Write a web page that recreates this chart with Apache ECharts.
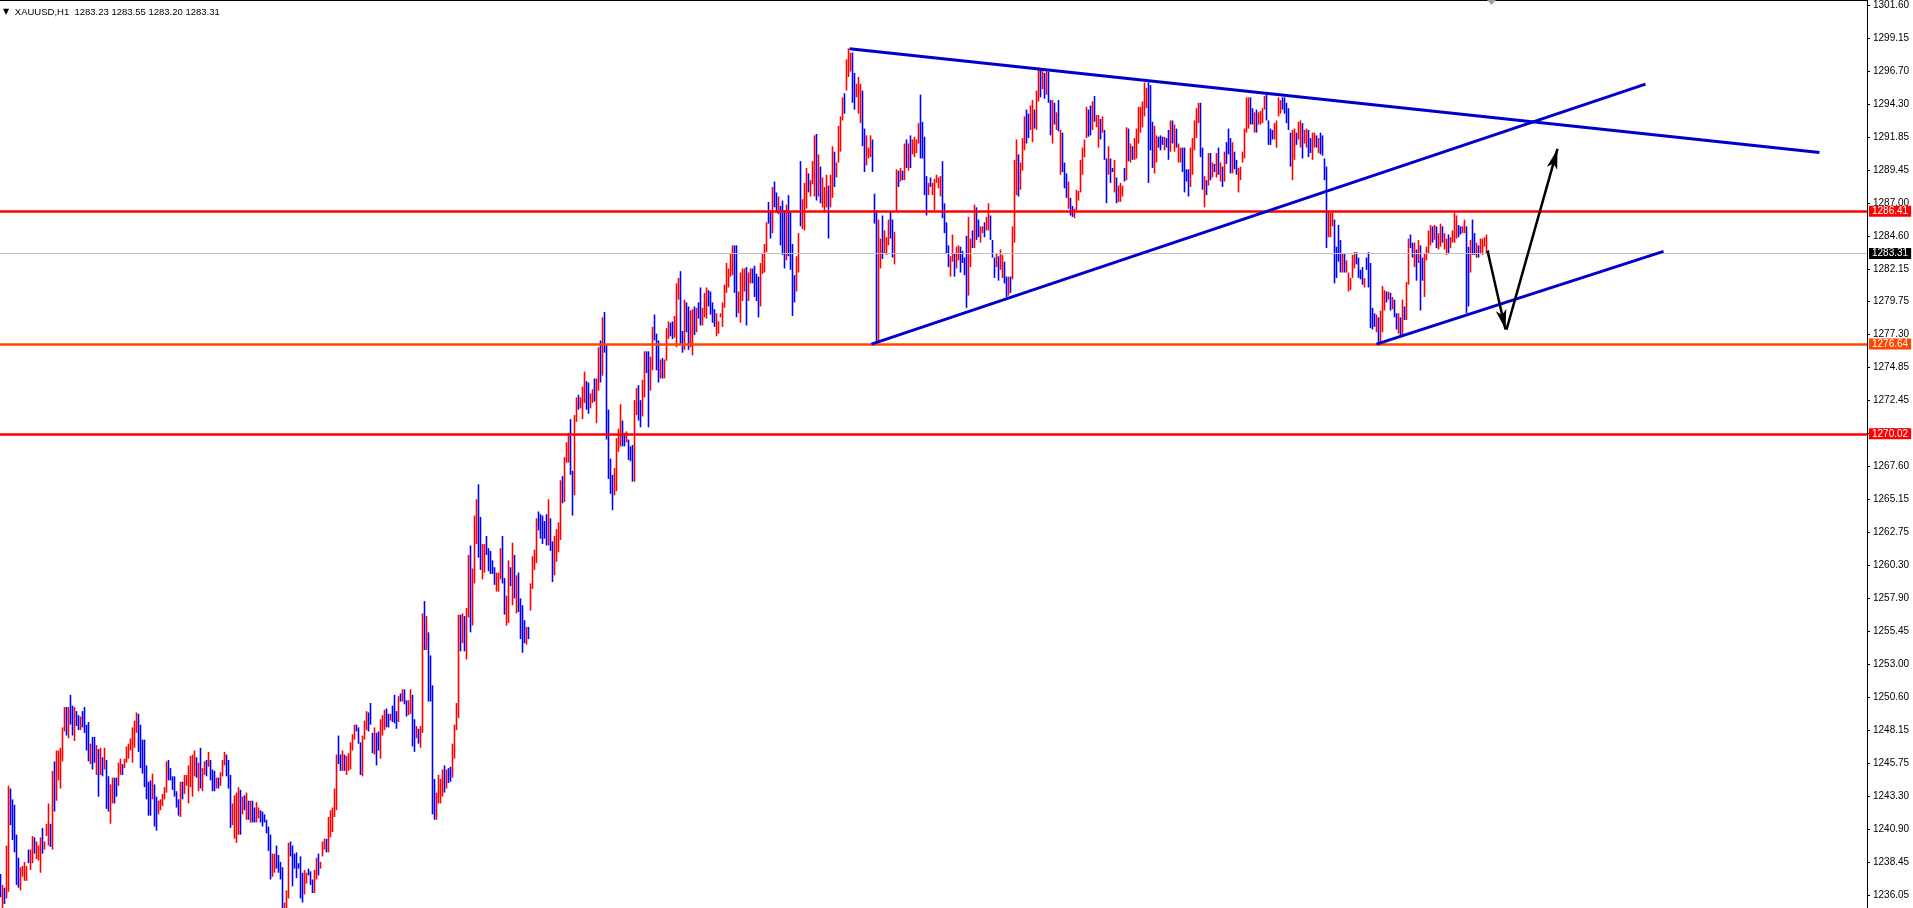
<!DOCTYPE html>
<html><head><meta charset="utf-8">
<script src="https://cdn.jsdelivr.net/npm/echarts@6/dist/echarts.min.js"></script>
<style>html,body{margin:0;padding:0;background:#fff;}#c{width:1913px;height:908px;}</style>
</head><body><div id="c"></div>
<script>
// ---------- DATA ----------
const symbolName = 'XAUUSD,H1';
const lastOHLC = [1283.23, 1283.55, 1283.20, 1283.31];
const tickLabels = ['1236.05','1238.45','1240.90','1243.30','1245.75','1248.15','1250.60','1253.00','1255.45','1257.90','1260.30','1262.75','1265.15','1267.60','1270.00','1272.45','1274.85','1277.30','1279.75','1282.15','1284.60','1287.00','1289.45','1291.85','1294.30','1296.70','1299.15','1301.60'];
const priceMin = 1235.10, priceMax = 1301.97;

const highs = [
1237.6,1236.8,1236.6,1239.7,1244.1,1243.9,1243.1,1242.7,1240.5,1238.8,
1238.1,1238.2,1238.5,1238.2,1239.4,1239.4,1240.4,1240.3,1240.0,1239.7,
1240.3,1241.0,1240.0,1241.3,1242.8,1241.3,1245.2,1245.9,1246.7,1246.7,
1246.9,1248.4,1249.9,1249.9,1249.9,1250.8,1250.0,1249.9,1249.6,1249.3,
1249.2,1249.6,1249.9,1248.6,1248.8,1247.2,1247.7,1247.7,1247.1,1246.8,
1246.9,1246.2,1246.9,1246.0,1244.8,1244.2,1244.7,1244.7,1244.7,1245.8,
1246.1,1245.7,1246.1,1247.0,1247.2,1247.6,1248.4,1248.9,1249.5,1249.4,
1248.6,1247.5,1247.5,1245.6,1244.4,1244.5,1245.0,1244.2,1243.3,1243.0,
1243.1,1243.5,1244.0,1245.9,1246.0,1245.4,1244.8,1244.8,1243.7,1243.1,
1244.4,1244.4,1244.9,1244.9,1245.6,1246.3,1246.4,1246.7,1246.2,1245.8,
1246.9,1245.4,1245.9,1246.0,1246.6,1246.0,1245.3,1245.2,1244.7,1244.7,
1245.1,1246.0,1246.6,1246.4,1246.0,1244.9,1242.8,1243.4,1243.6,1244.0,
1243.8,1243.3,1243.4,1243.6,1243.0,1243.0,1243.0,1242.5,1242.9,1242.5,
1242.3,1242.2,1242.0,1241.6,1241.1,1240.5,1239.1,1239.1,1239.7,1239.0,
1238.5,1238.1,1235.5,1236.4,1239.9,1240.0,1239.7,1239.1,1239.2,1238.4,
1238.9,1237.7,1237.9,1237.7,1238.0,1237.8,1237.2,1237.9,1238.8,1239.1,
1238.5,1240.0,1240.2,1240.2,1241.8,1242.3,1242.5,1243.9,1246.4,1247.8,
1246.4,1246.7,1246.4,1246.3,1246.5,1247.3,1247.9,1248.6,1248.6,1248.4,
1247.3,1247.8,1248.9,1249.6,1249.5,1250.2,1248.0,1248.4,1248.0,1248.1,
1249.0,1249.3,1249.7,1249.8,1249.4,1249.4,1250.0,1250.8,1249.6,1250.7,
1250.9,1251.2,1251.2,1250.4,1250.4,1251.2,1250.8,1249.0,1248.5,1248.3,
1248.5,1256.8,1257.7,1256.6,1255.4,1253.7,1251.5,1244.6,1243.6,1244.9,
1244.6,1245.3,1245.6,1245.3,1245.4,1245.5,1247.2,1248.6,1250.2,1256.7,
1256.7,1256.8,1256.6,1257.2,1261.1,1261.8,1260.1,1264.0,1265.2,1266.3,
1263.9,1261.9,1261.9,1262.5,1261.6,1261.4,1260.7,1260.2,1259.8,1259.8,
1261.6,1262.5,1259.4,1258.1,1260.7,1260.2,1262.0,1261.1,1259.6,1259.8,
1257.9,1257.4,1256.3,1255.8,1255.8,1259.0,1261.0,1261.5,1263.8,1264.3,
1264.1,1264.0,1263.6,1264.1,1265.2,1263.8,1262.1,1262.5,1263.0,1263.5,
1266.6,1266.9,1268.3,1269.4,1270.1,1271.1,1267.3,1271.4,1272.7,1272.9,
1272.7,1273.5,1274.6,1273.9,1273.8,1273.0,1273.3,1274.1,1274.1,1276.4,
1276.9,1278.6,1279.0,1276.6,1271.8,1268.2,1267.0,1267.5,1269.7,1270.4,
1272.2,1271.0,1270.1,1270.2,1269.6,1269.1,1269.2,1272.5,1273.4,1273.6,
1272.5,1274.0,1276.1,1276.1,1276.1,1275.7,1277.9,1278.8,1277.4,1276.9,
1275.5,1275.6,1275.5,1277.8,1278.3,1278.2,1278.3,1278.7,1281.1,1281.5,
1282.0,1277.6,1279.9,1279.7,1279.4,1279.1,1279.2,1279.4,1279.3,1279.7,
1280.8,1279.3,1280.4,1280.8,1280.6,1280.5,1279.7,1279.2,1278.9,1278.3,
1278.9,1279.7,1281.0,1282.6,1282.2,1283.3,1283.9,1283.9,1283.9,1280.5,
1281.9,1282.2,1282.2,1282.3,1281.9,1282.2,1282.2,1282.4,1281.8,1281.6,
1282.6,1283.3,1284.0,1285.6,1287.1,1286.5,1288.2,1288.6,1287.8,1287.5,
1286.8,1287.2,1286.5,1286.9,1287.6,1286.4,1284.0,1281.7,1283.1,1284.8,
1290.1,1287.3,1288.5,1289.6,1289.2,1288.7,1290.1,1292.0,1292.1,1290.6,
1289.7,1288.9,1288.2,1289.1,1288.3,1289.1,1291.2,1290.8,1290.0,1292.7,
1293.4,1294.8,1295.1,1297.6,1298.4,1298.1,1298.1,1296.6,1295.8,1296.3,
1295.8,1295.3,1292.5,1292.0,1291.1,1292.0,1291.7,1287.7,1286.5,1285.8,
1284.4,1286.1,1285.0,1284.5,1285.8,1286.4,1285.8,1284.9,1289.5,1289.4,
1289.6,1289.4,1291.4,1291.7,1291.4,1292.0,1291.7,1291.9,1291.7,1292.9,
1295.0,1293.0,1291.9,1289.0,1288.5,1288.9,1288.5,1288.8,1289.1,1288.9,
1289.0,1290.1,1287.0,1285.6,1283.9,1283.1,1284.7,1283.3,1283.8,1283.9,
1283.8,1283.5,1283.0,1284.6,1286.0,1284.4,1285.0,1286.9,1286.7,1285.8,
1285.3,1285.3,1285.6,1286.0,1287.0,1286.1,1284.3,1283.0,1283.3,1283.1,
1283.6,1283.2,1282.7,1281.6,1281.6,1281.6,1285.3,1290.2,1291.7,1290.6,
1290.0,1291.8,1293.4,1293.9,1293.6,1294.2,1294.6,1293.9,1295.3,1297.0,
1296.9,1296.8,1296.6,1296.8,1296.7,1294.6,1294.6,1294.4,1293.7,1294.6,
1292.4,1292.2,1290.0,1289.2,1288.6,1287.4,1286.8,1286.6,1288.0,1287.9,
1290.2,1291.1,1291.7,1294.1,1293.9,1294.2,1294.5,1294.9,1293.5,1293.5,
1293.2,1293.4,1292.4,1290.3,1291.2,1290.3,1289.6,1290.2,1288.9,1288.3,
1288.5,1288.3,1289.6,1292.6,1292.5,1291.4,1291.2,1291.8,1292.5,1294.1,
1294.1,1294.5,1295.9,1295.5,1295.9,1295.7,1293.0,1292.7,1292.0,1291.9,
1292.0,1291.9,1291.9,1291.8,1292.4,1293.1,1293.1,1292.8,1292.5,1291.4,
1291.1,1291.1,1291.1,1289.5,1289.5,1291.1,1291.8,1293.1,1294.0,1294.4,
1294.4,1291.1,1289.0,1288.7,1290.7,1290.7,1290.0,1289.9,1290.7,1291.1,
1290.0,1289.7,1290.8,1291.5,1292.5,1291.8,1291.5,1290.8,1290.2,1289.6,
1289.7,1290.8,1292.5,1294.8,1294.8,1294.8,1294.0,1293.7,1293.9,1293.7,
1293.8,1294.0,1294.9,1295.0,1293.1,1292.5,1292.4,1292.9,1293.1,1294.8,
1294.6,1294.8,1294.8,1294.4,1294.0,1292.2,1292.4,1292.5,1292.2,1293.0,
1293.1,1292.9,1292.4,1292.5,1292.4,1291.8,1292.2,1292.2,1292.0,1291.8,
1292.2,1292.0,1290.3,1289.7,1286.4,1286.3,1286.4,1285.8,1283.8,1285.4,
1284.3,1283.3,1283.3,1282.8,1281.9,1281.5,1283.2,1283.4,1283.4,1283.0,
1282.1,1282.3,1281.5,1283.0,1283.4,1282.6,1279.3,1278.9,1278.8,1278.6,
1279.1,1280.9,1280.6,1280.5,1280.5,1280.4,1280.1,1279.9,1278.9,1278.9,
1278.6,1279.9,1279.4,1281.2,1284.4,1284.7,1284.1,1284.1,1283.6,1284.3,
1283.9,1283.0,1283.3,1283.8,1285.0,1285.4,1285.3,1285.4,1285.3,1284.8,
1285.5,1285.3,1284.8,1284.4,1284.7,1284.5,1285.0,1286.3,1286.1,1285.4,
1285.3,1285.3,1285.8,1285.3,1283.8,1284.3,1285.8,1284.8,1284.1,1283.9,
1284.4,1284.4,1284.5,1284.7,1283.55
];
const lows = [
1235.9,1235.1,1235.4,1235.8,1236.3,1241.2,1240.1,1239.2,1236.8,1236.6,
1236.4,1237.4,1237.1,1237.1,1238.4,1237.9,1238.4,1239.1,1238.7,1238.6,
1237.7,1239.1,1239.4,1240.4,1239.7,1239.6,1239.4,1242.2,1243.0,1244.5,
1243.9,1245.9,1248.1,1247.8,1247.6,1248.6,1247.8,1247.4,1248.5,1248.2,
1248.2,1248.4,1248.0,1246.7,1245.9,1245.7,1245.3,1245.8,1244.9,1243.3,
1244.9,1244.8,1245.3,1242.4,1242.2,1241.3,1242.8,1242.8,1243.3,1244.1,
1244.9,1244.9,1245.4,1245.8,1246.1,1246.7,1245.8,1246.9,1248.0,1246.6,
1245.4,1245.0,1244.0,1243.1,1241.9,1241.9,1243.1,1241.1,1240.8,1242.0,
1242.3,1242.6,1243.1,1243.6,1244.5,1244.5,1243.8,1243.3,1242.5,1241.9,
1241.8,1243.1,1243.5,1244.1,1242.8,1244.0,1243.3,1244.8,1244.7,1243.7,
1243.9,1243.7,1244.9,1244.8,1245.5,1244.5,1243.7,1243.7,1243.9,1243.9,
1244.1,1244.8,1245.6,1244.8,1243.9,1241.0,1241.2,1240.2,1239.9,1240.5,
1240.5,1242.0,1242.3,1241.6,1241.6,1241.4,1241.4,1241.4,1241.4,1241.7,
1241.4,1241.1,1241.4,1240.6,1239.3,1237.2,1237.4,1237.7,1238.0,1237.7,
1237.2,1235.0,1234.8,1234.9,1235.8,1238.9,1236.7,1238.0,1237.3,1238.0,
1235.8,1235.5,1236.1,1236.9,1237.5,1236.8,1236.2,1236.2,1237.2,1237.5,
1238.0,1238.9,1239.4,1239.2,1239.2,1240.3,1240.7,1241.8,1242.3,1245.7,
1245.2,1245.2,1245.2,1244.9,1245.2,1245.3,1246.7,1247.5,1248.1,1247.2,
1244.9,1244.8,1247.5,1248.2,1248.1,1248.6,1246.5,1246.4,1245.6,1246.7,
1246.1,1247.8,1248.2,1248.4,1248.4,1248.9,1248.8,1248.7,1248.3,1248.8,
1250.3,1250.3,1250.1,1249.2,1249.3,1249.4,1247.0,1246.6,1247.6,1247.2,
1246.9,1248.0,1254.1,1254.1,1250.3,1250.3,1242.0,1241.6,1241.6,1242.8,
1242.8,1243.3,1243.6,1243.9,1244.3,1244.4,1244.7,1246.1,1248.2,1249.1,
1254.0,1254.6,1254.0,1253.4,1256.5,1255.4,1255.9,1259.0,1261.9,1260.9,
1260.0,1259.3,1259.8,1261.1,1259.9,1259.7,1259.7,1258.9,1258.4,1258.4,
1259.3,1259.0,1256.7,1255.9,1256.1,1258.8,1257.4,1257.9,1256.8,1256.9,
1254.9,1253.9,1254.6,1254.5,1254.9,1257.0,1258.6,1260.0,1260.5,1262.9,
1262.3,1261.9,1262.3,1261.8,1261.8,1261.4,1259.1,1259.6,1260.6,1261.3,
1262.2,1264.9,1265.0,1267.9,1267.9,1267.0,1264.0,1265.5,1270.9,1271.8,
1271.9,1271.1,1272.3,1271.8,1271.5,1271.9,1272.3,1272.4,1270.8,1273.2,
1273.8,1274.3,1276.0,1269.6,1266.7,1265.6,1264.4,1265.5,1265.8,1268.7,
1269.1,1269.1,1269.1,1269.4,1268.1,1268.0,1266.5,1266.5,1271.4,1271.0,
1270.5,1271.3,1272.7,1274.5,1270.5,1273.2,1274.7,1276.9,1274.7,1273.8,
1274.1,1274.1,1274.1,1275.4,1277.0,1277.2,1277.0,1277.1,1276.4,1279.9,
1276.6,1276.0,1276.2,1277.5,1276.2,1276.4,1275.8,1277.3,1277.5,1278.5,
1278.0,1278.0,1278.6,1278.5,1279.4,1278.8,1278.2,1277.9,1277.2,1277.4,
1278.6,1277.9,1279.3,1280.4,1280.8,1281.6,1281.7,1280.4,1278.6,1278.9,
1278.2,1279.8,1280.5,1278.0,1279.8,1281.1,1281.1,1280.1,1279.8,1278.6,
1279.4,1281.8,1281.9,1283.4,1285.5,1284.4,1284.8,1286.7,1286.3,1286.2,
1283.9,1283.2,1282.2,1282.8,1283.1,1282.1,1278.7,1279.7,1280.5,1281.9,
1285.3,1285.1,1285.0,1286.6,1287.8,1287.5,1288.4,1287.5,1287.2,1287.5,
1287.0,1286.7,1286.3,1286.7,1284.4,1286.7,1287.4,1288.2,1288.9,1290.0,
1290.8,1293.1,1293.6,1295.3,1296.3,1296.7,1294.4,1293.9,1294.8,1293.6,
1292.9,1291.2,1289.3,1289.8,1290.3,1290.4,1289.3,1285.5,1276.7,1276.8,
1282.2,1282.9,1283.3,1283.2,1283.9,1284.4,1283.0,1282.5,1286.4,1288.2,
1288.6,1288.7,1288.7,1289.6,1289.4,1289.6,1290.6,1290.4,1290.7,1291.4,
1290.3,1290.3,1287.6,1286.1,1287.6,1288.2,1287.6,1286.5,1288.5,1288.1,
1287.5,1285.9,1284.8,1283.3,1282.3,1281.6,1282.7,1281.6,1282.2,1282.8,
1281.9,1282.6,1281.7,1279.3,1280.2,1282.3,1283.7,1283.7,1284.3,1284.5,
1284.1,1284.8,1284.5,1285.0,1285.0,1284.3,1283.0,1281.5,1282.3,1281.3,
1282.1,1281.5,1281.1,1280.1,1280.2,1280.4,1281.4,1284.1,1287.6,1287.5,
1288.0,1289.4,1290.9,1291.4,1291.8,1292.4,1291.5,1292.5,1292.4,1294.5,
1294.8,1295.4,1294.7,1295.0,1294.4,1292.0,1291.4,1292.8,1292.4,1292.3,
1289.1,1289.3,1288.1,1287.4,1286.6,1286.1,1286.0,1285.9,1286.5,1287.2,
1287.8,1289.1,1290.4,1291.8,1291.9,1292.0,1292.4,1293.0,1292.6,1291.1,
1291.7,1292.2,1290.2,1287.0,1289.1,1288.5,1289.3,1287.8,1287.0,1287.1,
1287.1,1287.5,1288.6,1288.7,1290.1,1290.0,1290.2,1290.2,1290.3,1291.4,
1292.2,1292.6,1293.4,1294.0,1288.5,1290.9,1289.6,1289.2,1290.0,1291.1,
1290.9,1291.3,1290.9,1291.1,1290.2,1290.8,1291.4,1290.8,1291.1,1290.0,
1290.0,1289.3,1287.8,1288.6,1287.5,1288.2,1289.1,1290.9,1291.8,1292.9,
1290.4,1288.0,1286.7,1287.6,1288.3,1288.7,1288.9,1289.3,1288.9,1289.1,
1288.6,1288.2,1288.6,1289.9,1290.6,1289.2,1289.2,1289.5,1289.1,1287.8,
1288.7,1290.0,1290.3,1292.2,1292.5,1292.8,1292.8,1292.2,1292.2,1292.8,
1292.8,1292.9,1293.9,1293.1,1291.3,1291.3,1291.7,1291.7,1291.1,1293.4,
1293.6,1293.9,1293.6,1292.9,1292.4,1289.7,1288.7,1290.2,1291.3,1291.7,
1291.1,1290.3,1291.4,1291.1,1290.4,1290.7,1290.2,1291.1,1291.1,1290.7,
1290.6,1290.5,1288.7,1283.7,1284.5,1284.5,1285.3,1281.1,1281.5,1282.7,
1281.9,1281.9,1281.9,1281.9,1280.5,1280.6,1281.5,1282.2,1282.5,1281.5,
1281.4,1281.0,1280.8,1282.1,1280.8,1277.8,1277.7,1277.9,1277.5,1276.8,
1276.8,1277.5,1279.1,1279.7,1279.9,1279.1,1279.2,1278.6,1277.7,1277.4,
1277.3,1277.3,1278.4,1278.4,1281.0,1283.7,1283.0,1282.3,1281.3,1282.6,
1279.1,1281.3,1280.1,1282.8,1283.3,1283.9,1284.1,1284.3,1283.7,1283.6,
1283.8,1284.1,1283.6,1283.2,1283.3,1283.7,1284.1,1284.1,1284.4,1284.5,
1284.7,1284.8,1284.8,1278.9,1279.4,1281.9,1283.2,1283.2,1283.0,1283.0,
1283.3,1283.2,1283.8,1283.3,1283.20
];
// bar direction, u = bullish (red), d = bearish (blue), in blocks from bar 0
const dirBlocks = [
"duduuddddd","uuuuduuduu","uduuududuu","uuududdudd","udddduddud","ududduuddu","uduuuuuuud","ddddd",
"dudduuuuud","ddddduduuu","uuududuudu","ddduduuudd","duuuududud","udduuddddd","duudddduuu","ddddddduud",
"dduuduuudu","uuuudduduu","uuuddduuud","ddudduuudd","udddududdu","uddud",
"uududddduu","uududduuuu","duduuduuud","duuddddduu","udduududud","ddduduuuud","ddddudduuu",
"uduuudduud","uuudduuduu","duddddduuu","udduddduud","duudduuddd","uduuudduuu","ddudduudud","duuudddduu",
"uuuuuuuddu","uuuduudddd","uuuudduddu","dddudddduu","duuuduuudu","duuuduuduu","uuduuudduu","udduuudddu",
"uduuudduud","udududuuuu","dddduduuuu","udddduuduu","dddduududd","uuduudddud","uudduduuud","uuudduuduu",
"dududdudud","udddudduuu","uuuudduduu","dudduddudu","uudududuuu","uuuuddduud","dduddududu","udddduuuuu",
"ddudududud","ududdduddu","uuuuuddudu","uuudddduuu","uddddduudu","uduudduudu","dddduuuddd","duduuuuudd",
"ddudddddud","uuudududdu","duduuddudu","dduuuududu","uduuduuuud","duudduddud","uuuuu"
];
const levelLines = [1286.41, 1276.64, 1270.02];
const levelColors = ['#ff0000', '#ff4500', '#ff0000'];
const bidPrice = 1283.31;
// trend lines: [[barIndex, price], [barIndex, price]]
const trendLines = [
  [[424.5, 1298.38], [909.5, 1290.74]],
  [[435.5, 1276.63], [822.5, 1295.77]],
  [[688, 1276.63], [831.5, 1283.46]]
];
const arrows = [
  [[743.5, 1283.5], [752.5, 1277.7]],
  [[753, 1277.7], [778.5, 1291.0]]
];
</script>
<script>
const chart = echarts.init(document.getElementById('c'), null, {renderer: 'canvas'});
const H = chart.getHeight();
const dirList = dirBlocks.join('');
const n = highs.length;
const barData = highs.map((h, i) => [i, lows[i], h, (dirList[i] || 'u') === 'u' ? 1 : 0]);
const first = parseFloat(tickLabels[0]);
const last = parseFloat(tickLabels[tickLabels.length - 1]);
const labelTop = (priceMax - last) / (priceMax - priceMin) * H;
const labelBottom = H - (priceMax - first) / (priceMax - priceMin) * H;
const FONT = 'Liberation Sans, DejaVu Sans, sans-serif';

const badge = (bg) => ({show: true, position: 'end', distance: 2, color: '#fff',
  backgroundColor: bg, padding: [1, 3, 0, 3], fontSize: 10, lineHeight: 10, fontFamily: FONT});
const hLines = levelLines.map((v, i) => ({
  yAxis: v,
  lineStyle: {color: levelColors[i], width: 2.5, type: 'solid'},
  label: Object.assign(badge(levelColors[i]), {formatter: v.toFixed(2)})
}));
hLines.push({
  yAxis: bidPrice,
  lineStyle: {color: '#c0c0c0', width: 1, type: 'solid'},
  label: Object.assign(badge('#000'), {formatter: bidPrice.toFixed(2)})
});
const tLines = trendLines.map(t => [
  {coord: t[0], lineStyle: {color: '#0000cd', width: 3, type: 'solid'}, label: {show: false}, symbol: 'none'},
  {coord: t[1], symbol: 'none'}
]);
const aLines = arrows.map(a => [
  {coord: a[0], lineStyle: {color: '#000', width: 2.5, type: 'solid'}, label: {show: false}, symbol: 'none'},
  {coord: a[1], symbol: 'arrow', symbolSize: [8, 20]}
]);

chart.setOption({
  animation: false,
  backgroundColor: '#ffffff',
  title: {
    text: '{t|▼} ' + symbolName + '  ' + lastOHLC.map(v => v.toFixed(2)).join(' '),
    left: 3, top: 7, padding: 0,
    textStyle: {fontSize: 9.5, fontWeight: 'normal', color: '#000', fontFamily: FONT,
      rich: {t: {fontSize: 8, color: '#000', fontFamily: 'DejaVu Sans', padding: [0, 3, 0, 0]}}}
  },
  grid: [
    {left: 0, right: 46, top: 0, bottom: 0, containLabel: false},
    {left: 0, right: 46, top: labelTop, bottom: labelBottom, containLabel: false}
  ],
  xAxis: [
    {type: 'value', gridIndex: 0, min: -0.25, max: 933.25, position: 'top',
      axisLine: {show: true, onZero: false, lineStyle: {color: '#000', width: 2}},
      axisTick: {show: false}, axisLabel: {show: false}, splitLine: {show: false}},
    {type: 'value', gridIndex: 1, min: 0, max: 1, show: false}
  ],
  yAxis: [
    {type: 'value', gridIndex: 0, min: priceMin, max: priceMax, position: 'right',
      axisLine: {show: true, onZero: false, lineStyle: {color: '#000', width: 1}},
      axisTick: {show: false}, axisLabel: {show: false}, splitLine: {show: false}},
    {type: 'value', gridIndex: 1, min: 0, max: tickLabels.length - 1, interval: 1, position: 'right',
      axisLine: {show: false, onZero: false},
      axisTick: {show: true, inside: false, length: 3, lineStyle: {color: '#000'}},
      splitLine: {show: false},
      axisLabel: {show: true, margin: 6, color: '#000', fontSize: 10, fontFamily: FONT,
        showMinLabel: true, showMaxLabel: true,
        formatter: v => {
          const r = Math.round(v);
          return Math.abs(v - r) < 1e-6 && tickLabels[r] ? tickLabels[r] : '';
        }}
    }
  ],
  series: [
    {
      type: 'custom', xAxisIndex: 0, yAxisIndex: 0, clip: true, silent: true,
      encode: {x: 0, y: [1, 2]},
      data: barData,
      renderItem: (params, api) => {
        const i = api.value(0);
        const a = api.coord([i, api.value(1)]);
        const b = api.coord([i, api.value(2)]);
        return {type: 'line', shape: {x1: a[0], y1: a[1], x2: b[0], y2: Math.min(b[1], a[1] - 1)},
          style: {stroke: api.value(3) ? '#ff0000' : '#0000ff', lineWidth: 1.6}};
      }
    },
    {
      type: 'line', xAxisIndex: 0, yAxisIndex: 0, data: [], silent: true,
      markLine: {silent: true, symbol: ['none', 'none'], precision: 2, animation: false,
        data: hLines.concat(tLines).concat(aLines)},
      markPoint: {silent: true, animation: false,
        data: [{coord: [n + 0.5, priceMax], symbol: 'triangle', symbolRotate: 180, symbolSize: [9, 5],
          symbolOffset: [0, 2.5], itemStyle: {color: '#a0a0a0'}, label: {show: false}}]}
    }
  ]
});
</script>
</body></html>
